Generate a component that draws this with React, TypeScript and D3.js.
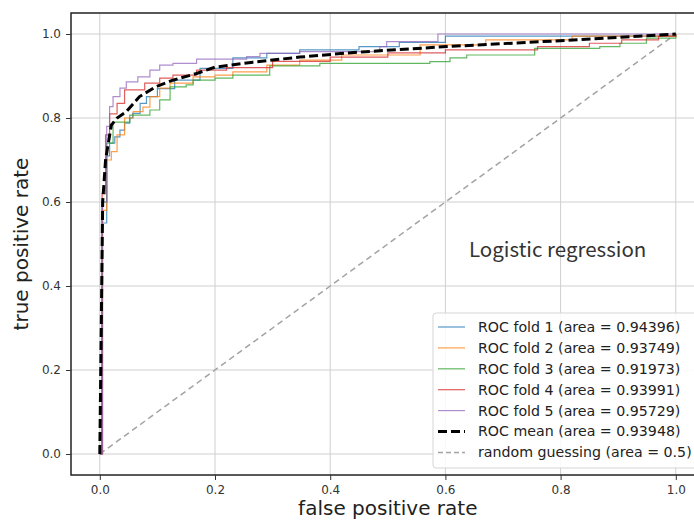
import React, { useEffect, useRef } from 'react';
import * as d3 from 'd3';

// ROC points per fold (step corners)
const fold1Fpr = [0, 0.004, 0.012, 0.017, 0.026, 0.035, 0.043, 0.052, 0.057, 0.07, 0.081, 0.1, 0.13, 0.174, 0.231, 0.29, 0.347, 0.45, 0.52, 0.6, 1.0];
const fold1Tpr = [0, 0.55, 0.71, 0.74, 0.755, 0.771, 0.788, 0.8, 0.811, 0.835, 0.851, 0.87, 0.89, 0.918, 0.943, 0.954, 0.962, 0.97, 0.98, 0.995, 1.0];

const fold2Fpr = [0, 0.004, 0.012, 0.02, 0.03, 0.043, 0.058, 0.075, 0.087, 0.104, 0.122, 0.162, 0.2, 0.231, 0.29, 0.347, 0.42, 0.556, 0.67, 0.82, 1.0];
const fold2Tpr = [0, 0.58, 0.7, 0.72, 0.76, 0.8, 0.815, 0.826, 0.851, 0.871, 0.883, 0.898, 0.902, 0.91, 0.926, 0.938, 0.95, 0.974, 0.986, 0.995, 1.0];

const fold3Fpr = [0, 0.004, 0.012, 0.023, 0.052, 0.087, 0.104, 0.122, 0.15, 0.162, 0.2, 0.231, 0.295, 0.382, 0.573, 0.608, 0.637, 0.755, 0.868, 0.903, 0.949, 1.0];
const fold3Tpr = [0, 0.6, 0.74, 0.79, 0.807, 0.819, 0.843, 0.874, 0.879, 0.89, 0.895, 0.902, 0.924, 0.93, 0.934, 0.943, 0.95, 0.966, 0.97, 0.978, 0.99, 1.0];

const fold4Fpr = [0, 0.004, 0.01, 0.017, 0.03, 0.043, 0.078, 0.104, 0.127, 0.168, 0.22, 0.3, 0.4, 0.5, 0.6, 0.76, 0.85, 0.906, 0.97, 1.0];
const fold4Tpr = [0, 0.62, 0.76, 0.81, 0.835, 0.867, 0.883, 0.895, 0.902, 0.914, 0.92, 0.935, 0.945, 0.955, 0.962, 0.97, 0.978, 0.986, 0.995, 1.0];

const fold5Fpr = [0, 0.005, 0.012, 0.017, 0.023, 0.035, 0.046, 0.066, 0.087, 0.104, 0.127, 0.168, 0.255, 0.278, 0.347, 0.486, 0.498, 0.587, 1.0];
const fold5Tpr = [0, 0.6, 0.78, 0.827, 0.851, 0.871, 0.886, 0.898, 0.914, 0.926, 0.93, 0.94, 0.946, 0.954, 0.958, 0.97, 0.982, 1.0, 1.0];

const meanFpr = [0, 0.005, 0.01, 0.02, 0.03, 0.046, 0.069, 0.098, 0.127, 0.168, 0.2, 0.266, 0.347, 0.45, 0.602, 0.7, 0.799, 0.9, 1.0];
const meanTpr = [0, 0.6, 0.7, 0.783, 0.8, 0.815, 0.851, 0.875, 0.89, 0.906, 0.921, 0.933, 0.945, 0.957, 0.97, 0.977, 0.984, 0.992, 1.0];

const foldAucs = ['0.94396', '0.93749', '0.91973', '0.93991', '0.95729'];
const meanAuc = '0.93948';
const foldColors = ['#1f77b4', '#ff7f0e', '#2ca02c', '#d62728', '#9467bd'];
const tickValues = [0, 0.2, 0.4, 0.6, 0.8, 1.0];

const App = () => {
  const svgRef = useRef<SVGSVGElement>(null);

  useEffect(() => {
    const font = 'DejaVu Sans, sans-serif';
    const svg = d3.select(svgRef.current);
    svg.selectAll('*').remove();

    // axes box: matplotlib default 5% margins
    const x = d3.scaleLinear().domain([-0.05, 1.05]).range([71, 704.6]);
    const y = d3.scaleLinear().domain([-0.05, 1.05]).range([475, 13]);

    svg.append('rect').attr('width', 694).attr('height', 522).attr('fill', '#fff');

    // grid
    const grid = svg.append('g').attr('stroke', '#cfcfcf').attr('stroke-width', 1);
    grid.selectAll('line.v').data(tickValues).join('line')
      .attr('x1', d => x(d)).attr('x2', d => x(d))
      .attr('y1', y(-0.05)).attr('y2', y(1.05));
    grid.selectAll('line.h').data(tickValues).join('line')
      .attr('class', 'h')
      .attr('y1', d => y(d)).attr('y2', d => y(d))
      .attr('x1', x(-0.05)).attr('x2', x(1.05));

    const plot = svg.append('g');

    // random guessing
    plot.append('line')
      .attr('x1', x(0)).attr('y1', y(0)).attr('x2', x(1)).attr('y2', y(1))
      .attr('stroke', '#a3a3a3').attr('stroke-width', 1.5)
      .attr('stroke-dasharray', '6,4');

    const step = d3.line<[number, number]>()
      .x(d => x(d[0])).y(d => y(d[1]))
      .curve(d3.curveStepAfter);

    const folds = [
      [fold1Fpr, fold1Tpr], [fold2Fpr, fold2Tpr], [fold3Fpr, fold3Tpr],
      [fold4Fpr, fold4Tpr], [fold5Fpr, fold5Tpr],
    ];
    folds.forEach(([f, t], i) => {
      plot.append('path')
        .datum(f.map((v, j) => [v, t[j]] as [number, number]))
        .attr('fill', 'none')
        .attr('stroke', foldColors[i])
        .attr('stroke-opacity', 0.75)
        .attr('stroke-width', 1.2)
        .attr('d', step);
    });

    const meanLine = d3.line<[number, number]>().x(d => x(d[0])).y(d => y(d[1]));
    plot.append('path')
      .datum(meanFpr.map((v, j) => [v, meanTpr[j]] as [number, number]))
      .attr('fill', 'none')
      .attr('stroke', '#000')
      .attr('stroke-width', 3)
      .attr('stroke-dasharray', '9,4')
      .attr('d', meanLine);

    // spines
    svg.append('rect')
      .attr('x', x(-0.05)).attr('y', y(1.05))
      .attr('width', x(1.05) - x(-0.05)).attr('height', y(-0.05) - y(1.05))
      .attr('fill', 'none').attr('stroke', '#222').attr('stroke-width', 1.5);

    // axes
    const fmt = d3.format('.1f');
    const xAxis = svg.append('g')
      .attr('transform', `translate(0,${y(-0.05)})`)
      .call(d3.axisBottom(x).tickValues(tickValues).tickFormat(d => fmt(d as number)).tickSize(5).tickPadding(5))
      .call(g => g.select('.domain').remove());
    const yAxis = svg.append('g')
      .attr('transform', `translate(${x(-0.05)},0)`)
      .call(d3.axisLeft(y).tickValues(tickValues).tickFormat(d => fmt(d as number)).tickSize(5).tickPadding(5))
      .call(g => g.select('.domain').remove());
    [xAxis, yAxis].forEach(g => {
      g.selectAll('text').style('font-family', font).style('font-size', '12px').attr('fill', '#333');
      g.selectAll('line').attr('stroke', '#333');
    });

    svg.append('text')
      .attr('x', x(0.5)).attr('y', 515)
      .attr('text-anchor', 'middle')
      .style('font-family', font).style('font-size', '20px')
      .attr('fill', '#222')
      .text('false positive rate');

    svg.append('text')
      .attr('transform', `translate(28,${y(0.5)}) rotate(-90)`)
      .attr('text-anchor', 'middle')
      .style('font-family', font).style('font-size', '20px')
      .attr('fill', '#222')
      .text('true positive rate');

    svg.append('text')
      .attr('x', 469).attr('y', 257)
      .style('font-family', '"Noto Sans CJK JP", sans-serif').style('font-size', '20.5px')
      .attr('fill', '#333')
      .text('Logistic regression');

    // legend
    const entries = [
      ...foldAucs.map((a, i) => ({ label: `ROC fold ${i + 1} (area = ${a})`, color: foldColors[i], dash: null as string | null, w: 1.2, op: 0.75 })),
      { label: `ROC mean (area = ${meanAuc})`, color: '#000', dash: '9,4', w: 3, op: 1 },
      { label: 'random guessing (area = 0.5)', color: '#a3a3a3', dash: '5,3', w: 1.5, op: 1 },
    ];
    const legend = svg.append('g');
    legend.append('rect')
      .attr('x', 433).attr('y', 313).attr('width', 264).attr('height', 155)
      .attr('rx', 3)
      .attr('fill', '#fff').attr('fill-opacity', 0.85)
      .attr('stroke', '#d5d5d5');
    const rowY = (i: number) => 327 + i * 20.9;
    entries.forEach((e, i) => {
      const ln = legend.append('line')
        .attr('x1', 438).attr('x2', 465)
        .attr('y1', rowY(i)).attr('y2', rowY(i))
        .attr('stroke', e.color).attr('stroke-width', e.w).attr('stroke-opacity', e.op);
      if (e.dash) ln.attr('stroke-dasharray', e.dash);
      legend.append('text')
        .attr('x', 478).attr('y', rowY(i))
        .attr('dy', '0.35em')
        .style('font-family', font).style('font-size', '14.2px')
        .attr('fill', '#222')
        .text(e.label);
    });
  }, []);

  return <svg ref={svgRef} width={694} height={522} style={{ position: 'absolute', left: 0, top: 0 }} />;
};

export default App;
